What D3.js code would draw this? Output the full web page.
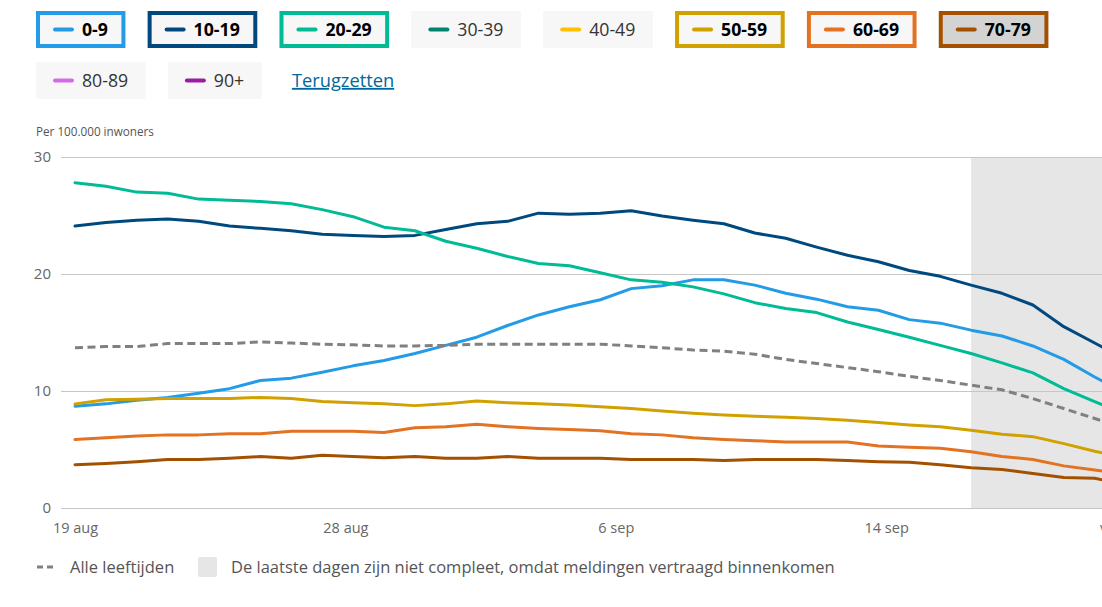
<!DOCTYPE html>
<html><head><meta charset="utf-8">
<script src="https://cdn.jsdelivr.net/npm/d3@7/dist/d3.min.js"></script>
<style>
html,body{margin:0;padding:0;background:#fff;overflow:hidden;width:1102px;height:607px;}
svg{display:block;font-family:"Open Sans","Noto Sans",sans-serif;}
</style></head><body>
<script>
// ---------- DATA ----------
const startDate = new Date(2020, 7, 19);            // 19 aug
const endDate = new Date(2020, 8, 23);              // domain end ("vandaag")
const dates = d3.timeDay.range(startDate, new Date(2020, 8, 23)); // 19 aug .. 22 sep
const incompleteFrom = new Date(2020, 8, 17);
const tickLabels = ["19 aug", "28 aug", "6 sep", "14 sep", "vandaag"];
const yTicks = [0, 10, 20, 30];

const groups = ["0-9","10-19","20-29","30-39","40-49","50-59","60-69","70-79","80-89","90+"];
const groupColors = ["#239BE6","#00497F","#00BB95","#00846F","#FFC000","#D0A100","#E37222","#A35000","#D36AE6","#9B1BA6"];
const selected = ["0-9","10-19","20-29","50-59","60-69","70-79"];
const hovered = "70-79";

const v0_9   = [8.7,8.9,9.2,9.45,9.8,10.2,10.9,11.1,11.6,12.15,12.6,13.2,13.9,14.6,15.6,16.5,17.2,17.8,18.75,19.0,19.5,19.5,19.05,18.35,17.85,17.2,16.9,16.1,15.8,15.2,14.7,13.85,12.7,11.2,9.8];
const v10_19 = [24.1,24.4,24.6,24.7,24.5,24.1,23.9,23.7,23.4,23.3,23.2,23.3,23.8,24.3,24.5,25.2,25.1,25.2,25.4,24.95,24.6,24.3,23.5,23.05,22.3,21.6,21.05,20.3,19.8,19.05,18.35,17.35,15.5,14.1,12.7];
const v20_29 = [27.8,27.5,27.0,26.9,26.4,26.3,26.2,26.0,25.5,24.9,24.0,23.7,22.8,22.2,21.5,20.9,20.7,20.1,19.5,19.3,18.9,18.3,17.55,17.05,16.7,15.9,15.25,14.6,13.9,13.2,12.4,11.55,10.2,9.1,8.0];
const v50_59 = [8.9,9.25,9.3,9.35,9.35,9.35,9.45,9.35,9.1,9.0,8.9,8.75,8.9,9.15,9.0,8.9,8.8,8.65,8.5,8.3,8.1,7.95,7.85,7.75,7.65,7.5,7.3,7.1,6.95,6.65,6.3,6.1,5.5,4.85,4.3];
const v60_69 = [5.85,6.0,6.15,6.25,6.25,6.35,6.35,6.55,6.55,6.55,6.45,6.85,6.95,7.15,6.95,6.8,6.7,6.6,6.35,6.25,6.0,5.85,5.75,5.65,5.65,5.65,5.3,5.2,5.1,4.8,4.4,4.15,3.6,3.25,2.9];
const v70_79 = [3.7,3.8,3.95,4.15,4.15,4.25,4.4,4.25,4.5,4.4,4.3,4.4,4.25,4.25,4.4,4.25,4.25,4.25,4.15,4.15,4.15,4.05,4.15,4.15,4.15,4.05,3.95,3.9,3.7,3.45,3.3,2.95,2.6,2.55,2.0];
const vAll   = [13.7,13.8,13.8,14.05,14.05,14.05,14.2,14.1,14.0,13.95,13.85,13.85,13.9,14.0,14.0,14.0,14.0,14.0,13.85,13.7,13.5,13.4,13.15,12.7,12.35,12.0,11.65,11.25,10.9,10.5,10.1,9.35,8.5,7.65,6.8];

const series = [
  {key:"0-9", values:v0_9},
  {key:"10-19", values:v10_19},
  {key:"20-29", values:v20_29},
  {key:"50-59", values:v50_59},
  {key:"60-69", values:v60_69},
  {key:"70-79", values:v70_79}
];

const yTitle = "Per 100.000 inwoners";
const resetLabel = "Terugzetten";
const allLabel = "Alle leeftijden";
const incompleteLabel = "De laatste dagen zijn niet compleet, omdat meldingen vertraagd binnenkomen";

// ---------- CHART ----------
const color = d3.scaleOrdinal(groups, groupColors);
const svg = d3.select("body").append("svg").attr("width", 1180).attr("height", 607);

const x = d3.scaleTime().domain([startDate, endDate]).range([75, 1156.5]);
const y = d3.scaleLinear().domain([0, 30]).range([508, 157]);

// shaded incomplete area
svg.append("rect")
  .attr("x", x(incompleteFrom)).attr("y", y(30))
  .attr("width", x(endDate) + 30 - x(incompleteFrom)).attr("height", y(0) - y(30))
  .attr("fill", "#e6e6e6");

// gridlines + y labels
const yAxis = svg.append("g").attr("transform", "translate(61,0)")
  .call(d3.axisLeft(y).tickValues(yTicks).tickSize(-1120).tickPadding(10));
yAxis.select(".domain").remove();
yAxis.selectAll(".tick line").attr("stroke", "#c6c6c6").attr("stroke-width", 1);
yAxis.selectAll(".tick text").attr("fill", "#666").attr("font-size", 15).attr("font-family", "Open Sans");

svg.append("text").attr("x", 36).attr("y", 135.5).attr("fill", "#555")
  .attr("font-size", 11.7).text(yTitle);

// x axis labels
const tickDates = d3.range(tickLabels.length).map(k =>
  new Date(+startDate + k * (endDate - startDate) / (tickLabels.length - 1)));
const xAxis = svg.append("g").attr("transform", "translate(0,508)")
  .call(d3.axisBottom(x).tickValues(tickDates).tickSize(0).tickPadding(15)
    .tickFormat((d, i) => tickLabels[i]));
xAxis.select(".domain").remove();
xAxis.selectAll(".tick text").attr("fill", "#666").attr("font-size", 14.5).attr("font-family", "Open Sans")
  .attr("text-anchor", (d, i) => i === tickLabels.length - 1 ? "end" : "middle");

// lines
const line = d3.line().x((d, i) => x(dates[i])).y(d => y(d));
svg.append("g").selectAll("path").data(series).join("path")
  .attr("d", s => line(s.values))
  .attr("fill", "none").attr("stroke", s => color(s.key))
  .attr("stroke-width", 3).attr("stroke-linejoin", "round").attr("stroke-linecap", "round");

svg.append("path").attr("d", line(vAll)).attr("fill", "none")
  .attr("stroke", "#808080").attr("stroke-width", 3).attr("stroke-dasharray", "8,4.5");

// ---------- LEGEND (top) ----------
const lg = svg.append("g");
let lx = 36, ly = 11;
const boxH = 37, gap = 22.2, maxX = 1100;
groups.forEach(g => {
  const isSel = selected.includes(g);
  const item = lg.append("g");
  const t = item.append("text").attr("font-size", 17.7)
    .attr("font-weight", isSel ? 700 : 400).attr("fill", isSel ? "#000" : "#333")
    .text(g);
  const tw = t.node().getComputedTextLength();
  const w = 46 + tw + 17.5;
  if (lx + w > maxX) { lx = 36; ly += 51; }
  item.attr("transform", `translate(${lx},${ly})`);
  item.insert("rect", "text")
    .attr("x", isSel ? 2 : 0).attr("y", isSel ? 2 : 0)
    .attr("width", isSel ? w - 4 : w).attr("height", isSel ? boxH - 4 : boxH)
    .attr("fill", g === hovered ? "#d3d3d3" : "#f7f7f7")
    .attr("stroke", isSel ? color(g) : "none").attr("stroke-width", 4);
  item.append("line").attr("x1", 19).attr("x2", 36).attr("y1", boxH / 2).attr("y2", boxH / 2)
    .attr("stroke", color(g)).attr("stroke-width", 4).attr("stroke-linecap", "round");
  t.attr("x", 46).attr("y", boxH / 2).attr("dy", "0.35em");
  lx += w + gap;
});
lg.append("text").attr("x", lx + 8).attr("y", ly + boxH / 2).attr("dy", "0.35em")
  .attr("font-size", 18.3).attr("fill", "#01689B").attr("text-decoration", "underline")
  .text(resetLabel);

// ---------- LEGEND (bottom) ----------
const bl = svg.append("g").attr("transform", "translate(0,567)");
bl.append("line").attr("x1", 37).attr("x2", 54).attr("y1", 0).attr("y2", 0)
  .attr("stroke", "#808080").attr("stroke-width", 3).attr("stroke-dasharray", "6,4");
bl.append("text").attr("x", 70).attr("dy", "0.35em").attr("font-size", 16.5).attr("fill", "#555").text(allLabel);
bl.append("rect").attr("x", 198).attr("y", -10).attr("width", 19).attr("height", 20).attr("rx", 2).attr("fill", "#e6e6e6");
bl.append("text").attr("x", 231).attr("dy", "0.35em").attr("font-size", 16.5).attr("fill", "#555").text(incompleteLabel);
</script>
</body></html>
